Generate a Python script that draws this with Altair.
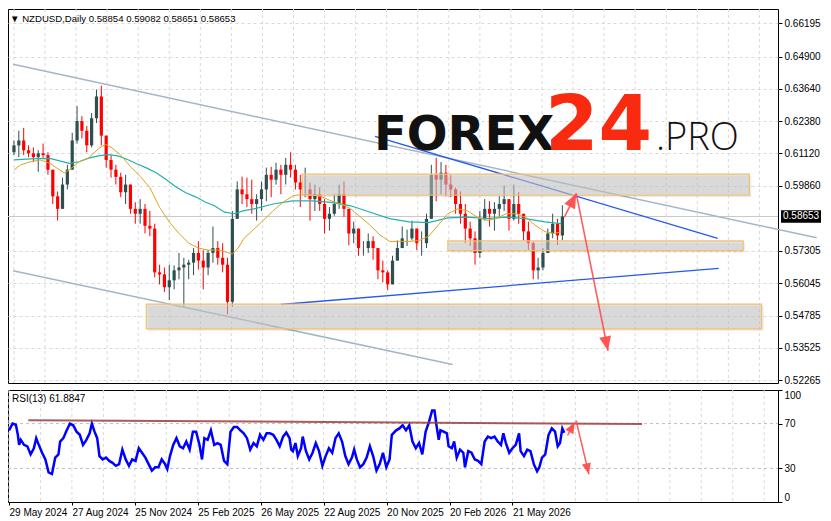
import altair as alt
import pandas as pd

# ---------------- data ----------------
date_labels = ["29 May 2024", "27 Aug 2024", "25 Nov 2024", "25 Feb 2025",
               "26 May 2025", "22 Aug 2025", "20 Nov 2025", "20 Feb 2026", "21 May 2026"]
label_days = [0, 64, 128, 192, 256, 320, 384, 448, 512]
grid_days = [0, 32, 64, 96, 128, 160, 192, 224, 256, 288, 320, 352, 384,
             416, 448, 480, 512, 544, 576, 608, 640, 672, 704, 736, 768]
price_ticks = [0.52265, 0.53525, 0.54785, 0.56045, 0.57305, 0.59860,
               0.61120, 0.62380, 0.63640, 0.64900, 0.66195]
rsi_ticks = [0, 30, 70, 100]
rsi_levels = [30, 70]

first_open = 0.6116
closes = [.6143, .6162, .6124, .6112, .6097, .6112, .6105, .6048, .5944, .5895,
          .5990, .6048, .6162, .6238, .6200, .6143, .6249, .6334, .6181, .6086,
          .6048, .6020, .5960, .5990, .5895, .5876, .5895, .5829, .5818, .5647,
          .5639, .5589, .5616, .5655, .5666, .5677, .5685, .5723, .5693, .5666,
          .5723, .5742, .5704, .5677, .5532, .5856, .5971, .5952, .5933, .5914,
          .5933, .5971, .6028, .6009, .6048, .6028, .6067, .6048, .5998, .5971,
          .5971, .5933, .5952, .5914, .5856, .5876, .5914, .5952, .5895, .5799,
          .5818, .5742, .5742, .5769, .5742, .5655, .5647, .5600, .5693, .5742,
          .5780, .5780, .5818, .5761, .5761, .5856, .6028, .6009, .6036, .5990,
          .5971, .5914, .5876, .5818, .5780, .5723, .5856, .5895, .5876, .5895,
          .5914, .5933, .5856, .5914, .5876, .5807, .5761, .5655, .5666, .5723,
          .5799, .5837, .5791, .58653]
highs = [.6162, .6200, .6211, .6143, .6135, .6124, .6150, .6116, .6048, .5963,
         .6017, .6067, .6192, .6296, .6257, .6219, .6269, .6361, .6376, .6181,
         .6105, .6067, .6036, .6028, .5990, .5921, .5933, .5914, .5887, .5837,
         .5677, .5666, .5677, .5674, .5723, .5704, .5696, .5742, .5769, .5734,
         .5734, .5826, .5769, .5761, .5704, .5887, .6002, .6021, .6017, .6009,
         .5952, .6002, .6056, .6059, .6075, .6067, .6094, .6116, .6067, .6028,
         .6056, .5998, .5990, .5979, .5933, .5902, .5952, .5990, .6002, .5895,
         .5845, .5818, .5769, .5799, .5788, .5723, .5693, .5655, .5712, .5772,
         .5826, .5814, .5849, .5818, .5807, .5876, .6067, .6094, .6078, .6067,
         .6028, .5979, .5963, .5914, .5845, .5807, .5887, .5933, .5925, .5921,
         .5944, .5986, .5933, .5990, .5960, .5876, .5845, .5769, .5704, .5742,
         .5818, .5876, .5856, .5909]
lows = [.6105, .6097, .6105, .6097, .6078, .6040, .6094, .6028, .5914, .5849,
        .5895, .5971, .6048, .6150, .6170, .6116, .6135, .6230, .6143, .6056,
        .6017, .5990, .5941, .5914, .5876, .5837, .5837, .5799, .5788, .5628,
        .5600, .5570, .5539, .5581, .5620, .5513, .5620, .5636, .5658, .5581,
        .5636, .5685, .5677, .5647, .5483, .5513, .5856, .5914, .5902, .5876,
        .5849, .5887, .5925, .5941, .5990, .5952, .5990, .6017, .5971, .5902,
        .5941, .5849, .5887, .5887, .5799, .5810, .5868, .5895, .5864, .5753,
        .5761, .5712, .5712, .5723, .5696, .5620, .5608, .5577, .5600, .5693,
        .5742, .5750, .5772, .5734, .5712, .5742, .5856, .5925, .5952, .5944,
        .5941, .5876, .5837, .5761, .5750, .5677, .5704, .5849, .5826, .5810,
        .5864, .5887, .5810, .5849, .5837, .5772, .5734, .5620, .5620, .5655,
        .5723, .5780, .5753, .5772]

ma_fast_day = [0, 7, 17, 27, 37, 47, 52, 57, 67, 77, 87, 94, 100, 110, 120, 130, 140, 150, 160, 170,
               180, 190, 200, 210, 220, 225, 231, 237, 247, 257, 267, 277, 287, 297, 307, 317, 327, 337,
               347, 357, 367, 377, 387, 397, 407, 417, 427, 437, 447, 457, 467, 477, 487, 497, 507, 517,
               527, 537, 547, 557, 564]
ma_fast_val = [.6047, .6067, .6079, .6086, .6073, .6047, .6035, .6047, .6079, .6094, .6130, .6147,
               .6136, .6105, .6060, .6022, .5978, .5901, .5844, .5799, .5761, .5742, .5734, .5734,
               .5725, .5719, .5742, .5780, .5815, .5850, .5888, .5920, .5945, .5952, .5949, .5942,
               .5926, .5914, .5895, .5863, .5831, .5793, .5768, .5768, .5768, .5771, .5787, .5831,
               .5876, .5895, .5888, .5863, .5850, .5857, .5876, .5876, .5863, .5831, .5806, .5799, .5806]
ma_slow_day = [0, 17, 37, 57, 67, 77, 87, 97, 107, 117, 127, 137, 147, 157, 167, 177, 187, 197, 207,
               217, 227, 237, 247, 267, 287, 307, 327, 347, 367, 387, 407, 427, 447, 467, 487, 507,
               527, 547, 564]
ma_slow_val = [.6086, .6090, .6092, .6073, .6079, .6093, .6102, .6107, .6102, .6088, .6070, .6054,
               .6035, .6009, .5980, .5958, .5942, .5922, .5906, .5882, .5876, .5888, .5895, .5914,
               .5926, .5926, .5920, .5907, .5882, .5857, .5844, .5841, .5860, .5863, .5857, .5863,
               .5857, .5844, .5837]

rsi_day = [0, 3.7, 7, 9, 10.3, 12, 15.3, 18.7, 22, 25.3, 27.7, 30.3, 33.7, 37, 40.3, 43.7, 47, 50.3,
           52, 55.3, 58.7, 62, 65.3, 68.7, 72, 75.3, 78.7, 82, 84.3, 87, 89.7, 92, 95.3, 98.7, 102,
           105.3, 108.7, 112, 115.3, 118.7, 122, 125.3, 128.7, 132, 135.3, 138.7, 142, 145.3, 148.7,
           152, 155.3, 158.7, 161, 163.7, 167, 170.3, 173.7, 177, 180.3, 183.7, 187, 190.3, 193.7,
           196.3, 198.7, 202, 205.3, 208.7, 212, 215.3, 218.7, 222, 225.3, 228.7, 232, 235.3, 238.7,
           242, 245.3, 248.7, 252, 255.3, 258.7, 262, 265.3, 268.7, 272, 275.3, 278.7, 282, 285.3,
           287, 288.7, 291.3, 293.7, 297, 298.7, 302, 305.3, 308.7, 312, 315.3, 318.7, 322, 325.3,
           328.7, 332, 335.3, 338.7, 342, 345.3, 348.7, 351, 353.7, 357, 360.3, 363.7, 367, 370.3,
           373.7, 377, 380.3, 383.7, 387, 389.3, 393.7, 397, 400.3, 403.7, 407, 410.3, 413.7, 417,
           420.3, 423.7, 427, 430.3, 432.7, 434.7, 437, 438.7, 442, 445.3, 447, 450.3, 452.7, 455.3,
           458.7, 462, 463.7, 467, 470.3, 473.7, 477, 480.3, 483.7, 487, 490.3, 493.7, 497, 500.3,
           502.7, 505.3, 508.7, 512, 515.3, 518.7, 520.3, 523.7, 527, 530.3, 533.7, 537, 539.3, 542,
           545.3, 548.7, 552, 555.3, 558, 560.3, 562.7, 564.7]
rsi_val = [64, 70, 69, 60, 51, 55.5, 51, 49.7, 42.5, 48, 57, 51, 44, 38, 26.5, 25, 39.6, 42.5,
           54, 57, 64, 70, 68.5, 62.8, 60, 51, 55.5, 61.3, 70, 62.8, 57, 41, 38, 39.6, 36.7,
           35, 32.3, 33.8, 46.8, 38, 32.3, 38, 36.7, 48, 44, 39.6, 33.8, 28, 31,
           31, 38, 33.8, 29.4, 41, 51, 57, 49.7, 48, 54, 46.8, 62.8, 62.8, 51,
           38, 57, 55.5, 64, 51, 52.6, 51, 36.7, 33.8, 62.8, 67, 67, 64, 61.3,
           57, 46.8, 52.6, 49.7, 60, 55.5, 61.3, 61.3, 60, 55.5, 49.7, 58.4, 62, 57,
           46.8, 45.4, 52.6, 41, 48, 58.4, 45.4, 38, 44, 52.6, 45.4, 32.3, 41, 48,
           44, 57, 61.3, 54, 41, 33.8, 39.6, 46.8, 38, 31, 33.8, 39.6, 49.7, 41,
           28, 33.8, 44, 31, 38, 60, 64, 65.7, 68.5, 64, 68.5, 54, 48, 52.6,
           42.5, 62.8, 71.4, 81.6, 81.6, 68.5, 55.5, 64, 62.8, 61.3, 49.7, 48, 54, 39.6,
           46.8, 44, 31, 45.4, 44, 38, 36.7, 33.8, 54, 58.4, 57, 58.4, 54, 51,
           61.3, 52.6, 44, 48, 51, 61.3, 45.4, 41, 46.8, 45.4, 33.8, 27.4, 31, 39.6,
           42.5, 60, 65.7, 62.8, 49.7, 52.6, 65.7, 61.9]

channel_top_day = [-1, 827]
channel_top_price = [0.64594, 0.57821]
channel_low_day = [-1, 452]
channel_low_price = [0.56530, 0.52876]
blue_down_day = [372, 725]
blue_down_price = [0.61784, 0.57801]
blue_up_day = [275, 726]
blue_up_price = [0.55216, 0.56629]

zone_start = [297, 447, 136.3]
zone_end = [757.7, 751.3, 770.3]
zone_top = [0.60310, 0.57698, 0.55232]
zone_bottom = [0.59481, 0.57316, 0.54262]

arrow_id = ["a", "a", "b", "b"]
arrow_day = [567, 579.3, 579.3, 612]
arrow_price = [0.58630, 0.59546, 0.59546, 0.53410]
head_day = [579.3, 612]
head_price = [0.59546, 0.53410]
head_angle = [27, 168.5]

rsi_res_day = [19.7, 643.7]
rsi_res_val = [73.1, 69.6]
rsi_arrow_id = ["a", "a", "b", "b"]
rsi_arrow_day = [568, 575.3, 576.7, 589.7]
rsi_arrow_val = [59.4, 71.1, 72.8, 24.8]
rsi_head_day = [575.3, 589.7]
rsi_head_val = [71.1, 24.8]
rsi_head_angle = [29, 166.6]

last_price = 0.58653
title_text = "\u25bc NZDUSD,Daily  0.58854 0.59082 0.58651 0.58653"
rsi_text = "RSI(13) 61.8847"

# ---------------- tables ----------------
opens = [first_open] + closes[:-1]
candle_days = [5 * i for i in range(len(closes))]
candles = pd.DataFrame({"day": candle_days, "open": opens, "high": highs,
                        "low": lows, "close": closes})
candles["dir"] = ["up" if c >= o else "down" for o, c in zip(opens, closes)]

ma_fast = pd.DataFrame({"day": ma_fast_day, "v": ma_fast_val})
ma_slow = pd.DataFrame({"day": ma_slow_day, "v": ma_slow_val})
rsi = pd.DataFrame({"day": rsi_day, "v": rsi_val})

channels = pd.DataFrame({"id": ["t", "t", "l", "l"],
                         "day": channel_top_day + channel_low_day,
                         "price": channel_top_price + channel_low_price})
blues = pd.DataFrame({"id": ["d", "d", "u", "u"],
                      "day": blue_down_day + blue_up_day,
                      "price": blue_down_price + blue_up_price})
zones = pd.DataFrame({"x1": zone_start, "x2": zone_end, "p1": zone_top, "p2": zone_bottom})
arrows = pd.DataFrame({"id": arrow_id, "day": arrow_day, "price": arrow_price})
heads = pd.DataFrame({"day": head_day, "price": head_price, "a": head_angle})
rsi_res = pd.DataFrame({"day": rsi_res_day, "v": rsi_res_val})
rsi_arrows = pd.DataFrame({"id": rsi_arrow_id, "day": rsi_arrow_day, "v": rsi_arrow_val})
rsi_heads = pd.DataFrame({"day": rsi_head_day, "v": rsi_head_val, "a": rsi_head_angle})
last = pd.DataFrame({"price": [last_price], "label": [f"{last_price:.5f}"]})

# ---------------- chart ----------------
W, H_TOP, H_RSI = 770, 374, 112
FONT = "Liberation Sans"
xs = alt.Scale(domain=[-1, 782], nice=False, zero=False)
ps = alt.Scale(domain=[0.5215, 0.66755], nice=False, zero=False)
rs = alt.Scale(domain=[0, 100], nice=False, zero=False)

p_axis = alt.Axis(orient="right", values=price_ticks, format=".5f", labelFont=FONT,
                  labelFontSize=10, labelColor="black", tickColor="black", tickSize=4,
                  labelPadding=2, domain=False, grid=True, gridColor="#D9D9D9",
                  gridDash=[3, 3], title=None, labelOverlap=False)
r_axis = alt.Axis(orient="right", values=rsi_ticks, labelFont=FONT, labelFontSize=10,
                  labelColor="black", tickColor="black", tickSize=4, labelPadding=2,
                  domain=False, grid=False, title=None, labelFlush=True, labelOverlap=False)
js_labels = "[" + ",".join(f"'{d}'" for d in date_labels) + "]"
x_axis = alt.Axis(values=label_days, labelExpr=f"{js_labels}[round(datum.value/64)]",
                  labelAlign="left", labelFont=FONT, labelFontSize=10, labelColor="black",
                  tickColor="black", tickSize=3, labelPadding=2, domain=False, grid=False,
                  title=None, labelFlush=False, labelOverlap=False)


def TX(f):
    return alt.X(f + ":Q", scale=xs, axis=None)


def TY(f):
    return alt.Y(f + ":Q", scale=ps, axis=p_axis)


def RX(f):
    return alt.X(f + ":Q", scale=xs, axis=x_axis)


def RY(f):
    return alt.Y(f + ":Q", scale=rs, axis=r_axis)


grid_df = pd.DataFrame({"day": grid_days})
cc = alt.Color("dir:N", scale=alt.Scale(domain=["up", "down"], range=["#2F4F4F", "#FF0000"]),
               legend=None)

vgrid_top = alt.Chart(grid_df).mark_rule(color="#D9D9D9", strokeDash=[3, 3]).encode(
    x=TX("day"), y=alt.value(0), y2=alt.value(H_TOP))
price_line = alt.Chart(last).mark_rule(color="#C8C8C8").encode(
    y=TY("price"), x=alt.value(0), x2=alt.value(W))
wicks = alt.Chart(candles).mark_rule(strokeWidth=1).encode(
    x=TX("day"), y=TY("low"), y2=alt.Y2("high:Q"), color=cc)
bodies = alt.Chart(candles).mark_bar(size=3.2).encode(
    x=TX("day"), y=TY("open"), y2=alt.Y2("close:Q"), color=cc)
slow = alt.Chart(ma_slow).mark_line(color="#20B2AA", strokeWidth=1.2).encode(x=TX("day"), y=TY("v"))
fast = alt.Chart(ma_fast).mark_line(color="#DAA520", strokeWidth=1).encode(x=TX("day"), y=TY("v"))
chan = alt.Chart(channels).mark_line(color="#A3B6C8", strokeWidth=1.5).encode(
    x=TX("day"), y=TY("price"), detail="id:N")
blue = alt.Chart(blues).mark_line(color="#2458F0", strokeWidth=1.3).encode(
    x=TX("day"), y=TY("price"), detail="id:N")
zone_shadow = alt.Chart(zones).mark_rect(fill="#000000", opacity=0.07, xOffset=2, x2Offset=2,
                                         yOffset=2, y2Offset=2).encode(
    x=TX("x1"), x2=alt.X2("x2:Q"), y=TY("p1"), y2=alt.Y2("p2:Q"))
zone = alt.Chart(zones).mark_rect(fill="#C8C8C8", fillOpacity=0.55, stroke="#F5C06A",
                                  strokeWidth=1.2).encode(
    x=TX("x1"), x2=alt.X2("x2:Q"), y=TY("p1"), y2=alt.Y2("p2:Q"))

logo_base = 141.0
logo1 = alt.Chart(pd.DataFrame({"t": ["FOREX"]})).mark_text(
    font="DejaVu Sans", fontWeight="bold", fontSize=48, color="#111111", align="left",
    baseline="alphabetic").encode(x=alt.value(366), y=alt.value(logo_base), text="t:N")
logo2 = alt.Chart(pd.DataFrame({"t": ["24"]})).mark_text(
    font="DejaVu Sans", fontWeight="bold", fontSize=77, color="#F92A10", align="left",
    baseline="alphabetic").encode(x=alt.value(537), y=alt.value(logo_base), text="t:N")
logo3 = alt.Chart(pd.DataFrame({"t": [".PRO"]})).mark_text(
    font="Open Sans", fontWeight=300, fontSize=38, color="#111111", align="left",
    baseline="alphabetic").encode(x=alt.value(648), y=alt.value(logo_base), text="t:N")

ARROW = "M0,0L-0.75,1.8L0.75,1.8Z"
arrow_lines = alt.Chart(arrows).mark_line(color="#FF4D4D", strokeWidth=1.6, opacity=0.9).encode(
    x=TX("day"), y=TY("price"), detail="id:N")
arrow_heads = alt.Chart(heads).mark_point(shape=ARROW, filled=True, size=256, color="#FF4D4D",
                                          opacity=0.95).encode(
    x=TX("day"), y=TY("price"), angle=alt.Angle("a:Q", scale=None))
title = alt.Chart(pd.DataFrame({"t": [title_text]})).mark_text(
    font=FONT, fontSize=9.6, color="black", align="left", baseline="alphabetic").encode(
    x=alt.value(2), y=alt.value(12.5), text="t:N")
BOX = "M-2.5,-0.78H2.5V0.78H-2.5Z"
price_box = alt.Chart(last).mark_point(shape=BOX, filled=True, size=256, color="black",
                                       opacity=1).encode(x=alt.value(W + 23), y=TY("price"))
price_txt = alt.Chart(last).mark_text(font=FONT, fontSize=10, color="white", align="left",
                                      baseline="middle").encode(
    x=alt.value(W + 5), y=TY("price"), text="label:N")

top = alt.layer(vgrid_top, price_line, wicks, bodies, slow, fast, chan, blue, zone_shadow, zone,
                logo1, logo2, logo3, arrow_lines, arrow_heads, title, price_box, price_txt
                ).properties(width=W, height=H_TOP)

vgrid_rsi = alt.Chart(grid_df).mark_rule(color="#D9D9D9", strokeDash=[3, 3]).encode(
    x=RX("day"), y=alt.value(0), y2=alt.value(H_RSI))
levels = alt.Chart(pd.DataFrame({"v": rsi_levels})).mark_rule(
    color="#BDBDBD", strokeDash=[3, 3]).encode(y=RY("v"), x=alt.value(0), x2=alt.value(W))
rsi_line = alt.Chart(rsi).mark_line(color="#0000FF", strokeWidth=2.5).encode(x=RX("day"), y=RY("v"))
res_line = alt.Chart(rsi_res).mark_line(color="#9B3F3F", strokeWidth=2, opacity=0.85).encode(
    x=RX("day"), y=RY("v"))
r_arrows = alt.Chart(rsi_arrows).mark_line(color="#FF4D4D", strokeWidth=1.5, opacity=0.9).encode(
    x=RX("day"), y=RY("v"), detail="id:N")
r_heads = alt.Chart(rsi_heads).mark_point(shape=ARROW, filled=True, size=150, color="#FF4D4D",
                                          opacity=0.95).encode(
    x=RX("day"), y=RY("v"), angle=alt.Angle("a:Q", scale=None))
r_title = alt.Chart(pd.DataFrame({"t": [rsi_text]})).mark_text(
    font=FONT, fontSize=10, color="black", align="left", baseline="alphabetic").encode(
    x=alt.value(4), y=alt.value(12.2), text="t:N")

bottom = alt.layer(vgrid_rsi, levels, rsi_line, res_line, r_arrows, r_heads, r_title
                   ).properties(width=W, height=H_RSI)

chart = alt.vconcat(top, bottom, spacing=3, background="white").properties(
    padding={"left": -5, "top": 0, "right": 0, "bottom": 0}
).configure_view(stroke="black", strokeWidth=1)

chart.save("out.html", embed_options={"renderer": "svg", "actions": False})
